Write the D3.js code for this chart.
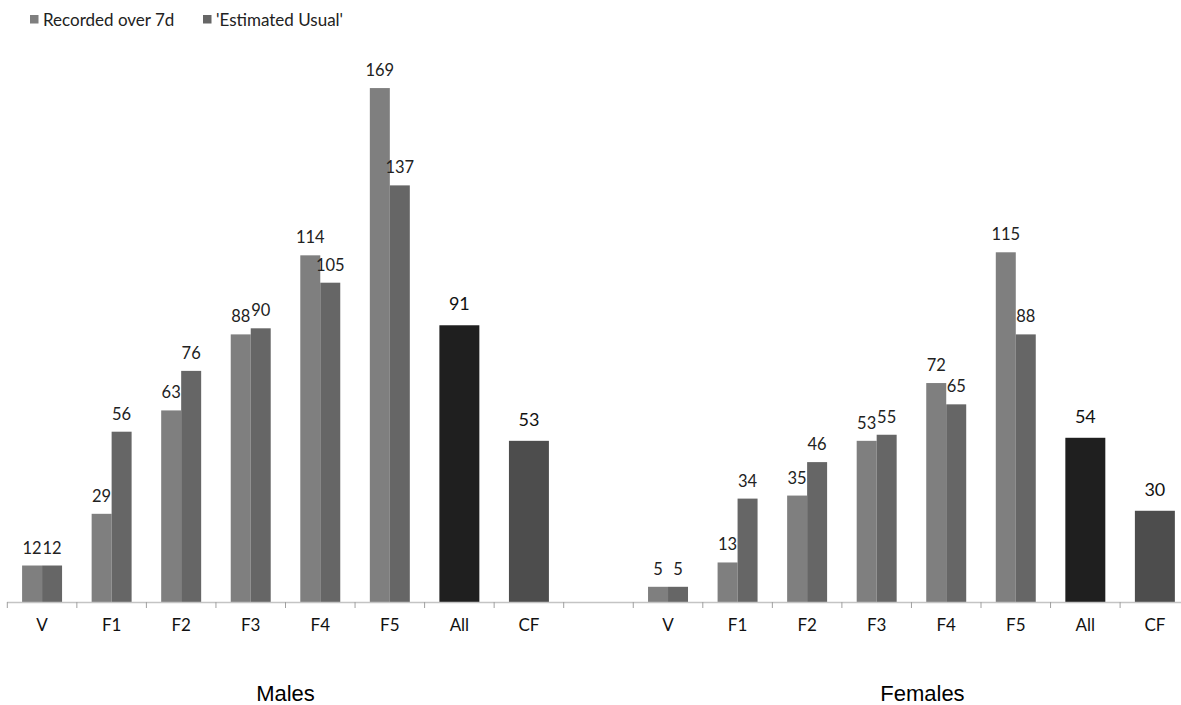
<!DOCTYPE html>
<html>
<head>
<meta charset="utf-8">
<script src="https://cdn.jsdelivr.net/npm/d3@7"></script>
<style>
  html, body { margin: 0; padding: 0; background: #fff; }
  svg { display: block; }
</style>
</head>
<body>
<svg id="chart" width="1181" height="705"></svg>
<script>
// Category slots (an empty slot separates the two groups)
const groups = ["Males", "Females"];
const fGrades = ["V", "F1", "F2", "F3", "F4", "F5"];
const summaryCats = ["All", "CF"];

// Recorded over 7 days vs 'Estimated Usual'
const malesRecorded   = [12, 29, 63, 88, 114, 169];
const malesEstimated  = [12, 56, 76, 90, 105, 137];
const femalesRecorded  = [5, 13, 35, 53, 72, 115];
const femalesEstimated = [5, 34, 46, 55, 65, 88];

// Overall and CF values
const malesSummary   = [91, 53];
const femalesSummary = [54, 30];

const seriesNames = ["Recorded over 7d", "'Estimated Usual'"];

const W = 1181, H = 705;
const baseY = 602;
const svg = d3.select("#chart");
const font = "Lato, 'Open Sans', sans-serif";

// slot keys
const slots = [];
groups.forEach((g, gi) => {
  fGrades.forEach(c => slots.push({key: g + "-" + c, label: c, group: g}));
  summaryCats.forEach(c => slots.push({key: g + "-" + c, label: c, group: g}));
  if (gi === 0) slots.push({key: "gap", label: "", group: null});
});

const x = d3.scaleBand()
  .domain(slots.map(s => s.key))
  .range([7.3, 7.3 + 69.55 * slots.length])
  .padding(0);

const y = d3.scaleLinear().domain([0, 180]).range([baseY, baseY - 180 * 3.041]);

const inner = d3.scaleBand().domain(["rec", "est"])
  .range([0, x.bandwidth()]).paddingInner(0).paddingOuter(0.74);

const colors = {rec: "#7f7f7f", est: "#666666", All: "#1f1f1f", CF: "#4d4d4d"};

// paired bars
const pairData = [];
const pairSets = [
  {g: "Males", rec: malesRecorded, est: malesEstimated},
  {g: "Females", rec: femalesRecorded, est: femalesEstimated}
];
pairSets.forEach(s => {
  fGrades.forEach((c, i) => {
    pairData.push({key: s.g + "-" + c, series: "rec", value: s.rec[i]});
    pairData.push({key: s.g + "-" + c, series: "est", value: s.est[i]});
  });
});

const singleData = [];
[["Males", malesSummary], ["Females", femalesSummary]].forEach(([g, vals]) => {
  summaryCats.forEach((c, i) => singleData.push({key: g + "-" + c, cat: c, value: vals[i]}));
});

svg.append("g").selectAll("rect").data(pairData).join("rect")
  .attr("x", d => x(d.key) + inner(d.series))
  .attr("width", inner.bandwidth())
  .attr("y", d => y(d.value))
  .attr("height", d => y(0) - y(d.value))
  .attr("fill", d => colors[d.series]);

const singleW = inner.bandwidth() * 2;
svg.append("g").selectAll("rect").data(singleData).join("rect")
  .attr("x", d => x(d.key) + (x.bandwidth() - singleW) / 2)
  .attr("width", singleW)
  .attr("y", d => y(d.value))
  .attr("height", d => y(0) - y(d.value))
  .attr("fill", d => colors[d.cat]);

// value labels
svg.append("g").selectAll("text").data(pairData).join("text")
  .attr("x", d => x(d.key) + inner(d.series) + inner.bandwidth() / 2)
  .attr("y", d => y(d.value) - 12)
  .attr("text-anchor", "middle")
  .attr("font-family", font)
  .attr("font-size", 16.5)
  .attr("fill", "#222")
  .text(d => d.value);

svg.append("g").selectAll("text").data(singleData).join("text")
  .attr("x", d => x(d.key) + x.bandwidth() / 2)
  .attr("y", d => y(d.value) - 15)
  .attr("text-anchor", "middle")
  .attr("font-family", font)
  .attr("font-size", 18)
  .attr("fill", "#111")
  .text(d => d.value);

// axis line and boundary ticks
const axisG = svg.append("g");
axisG.append("line")
  .attr("x1", 7).attr("x2", W)
  .attr("y1", baseY + 0.5).attr("y2", baseY + 0.5)
  .attr("stroke", "#c4c4c4").attr("stroke-width", 1.6);
const bounds = slots.map(s => x(s.key));
axisG.selectAll("line.tick").data(bounds).join("line")
  .attr("class", "tick")
  .attr("x1", d => d).attr("x2", d => d)
  .attr("y1", baseY).attr("y2", baseY + 6)
  .attr("stroke", "#a0a0a0").attr("stroke-width", 1);

// category labels
const labelOf = Object.fromEntries(slots.map(s => [s.key, s.label]));
const xAxis = d3.axisBottom(x).tickSize(0).tickPadding(0).tickFormat(k => labelOf[k]);
const xg = svg.append("g").attr("transform", `translate(0,${baseY})`).call(xAxis);
xg.select(".domain").remove();
xg.selectAll("text")
  .attr("dy", null)
  .attr("y", 29)
  .attr("font-family", font)
  .attr("font-size", 17)
  .attr("fill", "#111");

// group titles
svg.append("text")
  .attr("x", x("Males-F4"))
  .attr("y", 701)
  .attr("text-anchor", "middle")
  .attr("font-family", "'Liberation Sans', Arial, sans-serif")
  .attr("font-size", 22)
  .attr("fill", "#000")
  .text("Males");
svg.append("text")
  .attr("x", x("Females-F4") + 11)
  .attr("y", 701)
  .attr("text-anchor", "middle")
  .attr("font-family", "'Liberation Sans', Arial, sans-serif")
  .attr("font-size", 22)
  .attr("fill", "#000")
  .text("Females");

// legend
const legend = svg.append("g");
const legendX = [30, 203];
seriesNames.forEach((n, i) => {
  const g = legend.append("g").attr("transform", `translate(${legendX[i]},0)`);
  g.append("rect").attr("x", 0).attr("y", 15).attr("width", 8.5).attr("height", 8.5)
    .attr("fill", i === 0 ? colors.rec : colors.est);
  g.append("text").attr("x", 13).attr("y", 26)
    .attr("font-family", font).attr("font-size", 17).attr("fill", "#222")
    .text(n);
});
</script>
</body>
</html>
